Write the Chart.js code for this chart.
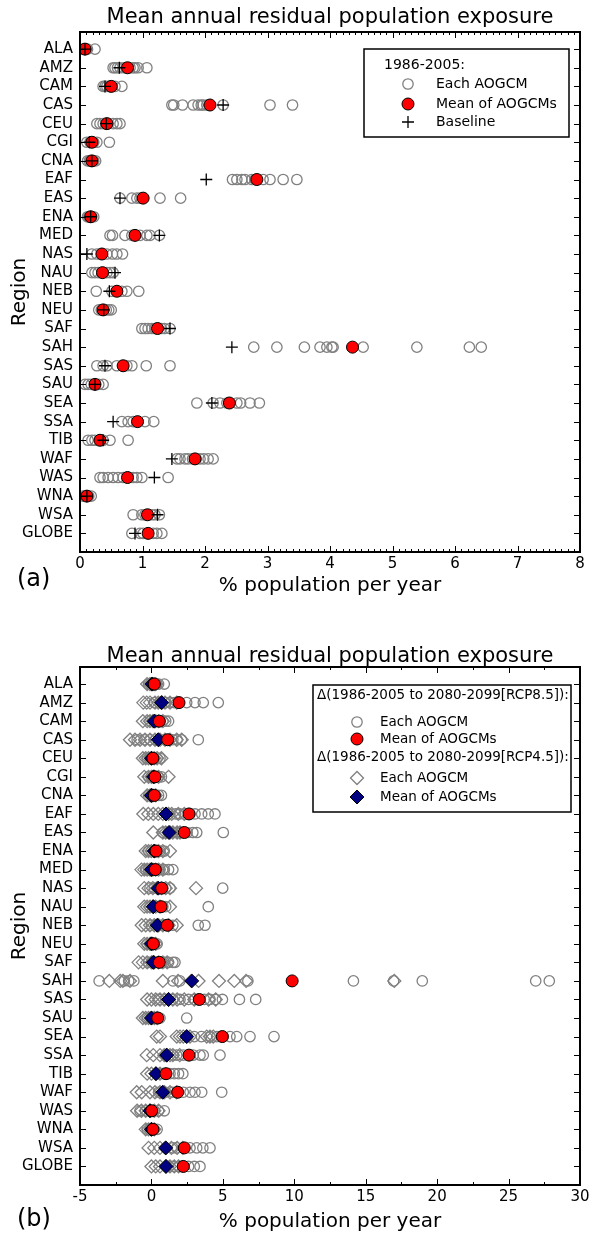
<!DOCTYPE html>
<html><head><meta charset="utf-8">
<script src="https://cdn.jsdelivr.net/npm/chart.js@4.4.0/dist/chart.umd.min.js"></script>
<style>
html,body{margin:0;padding:0;background:#fff;}
#wrap{position:relative;width:597px;height:1236px;background:#fff;}
canvas{position:absolute;left:0;}
</style></head><body>
<div id="wrap">
<canvas id="ca" width="597" height="616" style="top:0px"></canvas>
<canvas id="cb" width="597" height="620" style="top:616px"></canvas>
</div>
<script>
// ---------------- DATA ----------------
const regions = ["ALA","AMZ","CAM","CAS","CEU","CGI","CNA","EAF","EAS","ENA","MED","NAS","NAU","NEB","NEU","SAF","SAH","SAS","SAU","SEA","SSA","TIB","WAF","WAS","WNA","WSA","GLOBE"];
const titleText = "Mean annual residual population exposure";
const xLabel = "% population per year";
const yLabel = "Region";

// Panel (a): 1986-2005
const aXTicks = [0,1,2,3,4,5,6,7,8];
const aEachModel = [
  [0.05,0.07,0.08,0.10,0.12,0.24],
  [0.53,0.56,0.60,0.64,0.70,0.76,0.80,0.85,0.88,0.93,1.07],
  [0.37,0.40,0.43,0.47,0.51,0.56,0.67],
  [1.47,1.50,1.64,1.81,1.89,1.94,1.97,2.03,2.29,3.04,3.40],
  [0.27,0.32,0.37,0.41,0.45,0.53,0.59,0.64],
  [0.11,0.16,0.19,0.22,0.27,0.47],
  [0.12,0.15,0.18,0.20,0.22,0.25],
  [2.44,2.51,2.59,2.64,2.75,2.80,2.93,3.04,3.25,3.47],
  [0.64,0.83,0.91,0.96,1.01,1.28,1.61],
  [0.12,0.14,0.17,0.19,0.22],
  [0.48,0.52,0.72,0.83,0.88,0.96,1.07,1.12,1.27],
  [0.19,0.27,0.35,0.43,0.52,0.59,0.68],
  [0.19,0.24,0.29,0.36,0.43,0.48,0.53],
  [0.26,0.51,0.59,0.67,0.75,0.94],
  [0.30,0.34,0.38,0.42,0.46,0.50],
  [0.99,1.04,1.09,1.15,1.20,1.25,1.30,1.35,1.44],
  [2.78,3.15,3.59,3.84,3.95,4.03,4.05,4.53,5.39,6.23,6.42],
  [0.27,0.37,0.43,0.59,0.69,0.75,0.83,1.06,1.44],
  [0.08,0.13,0.18,0.24,0.30,0.37],
  [1.87,2.13,2.24,2.35,2.39,2.51,2.57,2.72,2.87],
  [0.67,0.77,0.85,0.93,1.04,1.18],
  [0.13,0.19,0.24,0.32,0.37,0.48,0.77],
  [1.55,1.60,1.68,1.73,1.80,1.86,1.92,1.98,2.05,2.13],
  [0.32,0.37,0.45,0.53,0.61,0.69,0.77,0.85,0.91,0.99,1.41],
  [0.05,0.08,0.11,0.14,0.18],
  [0.85,0.99,1.04,1.08,1.15,1.20,1.27],
  [0.83,0.96,1.01,1.09,1.17,1.23,1.31]
];
const aMean = [0.08,0.76,0.50,2.08,0.43,0.19,0.19,2.83,1.01,0.17,0.88,0.35,0.36,0.59,0.37,1.24,4.36,0.69,0.24,2.39,0.92,0.32,1.84,0.76,0.11,1.08,1.09];
const aBaseline = [0.08,0.63,0.40,2.29,0.42,0.15,0.19,2.02,0.64,0.17,1.27,0.11,0.56,0.47,0.38,1.44,2.43,0.40,0.24,2.11,0.53,0.37,1.47,1.19,0.11,1.24,0.88];

// Panel (b): change to 2080-2099
const bXTicks = [-5,0,5,10,15,20,25,30];
const bEachRCP85 = [
  [-0.2,0.0,0.1,0.2,0.3,0.4,0.5,0.9],
  [0.2,0.6,1.0,1.3,1.6,1.9,2.47,3.05,3.63,4.68],
  [-0.1,0.2,0.4,0.6,0.8,1.0,1.2],
  [-1.0,-0.5,-0.1,0.3,0.6,0.9,1.2,1.5,1.8,2.1,3.28],
  [-0.3,-0.1,0.0,0.1,0.2,0.4,0.6],
  [-0.2,0.0,0.2,0.3,0.5,0.7],
  [-0.2,0.0,0.2,0.3,0.5,0.7],
  [1.2,1.7,2.0,2.35,2.7,3.05,3.52,3.98,4.45],
  [0.8,1.2,1.5,1.77,2.1,2.5,2.9,3.17,5.03],
  [-0.2,0.0,0.2,0.4,0.6,0.9],
  [-0.4,-0.2,0.0,0.2,0.4,0.6,0.9,1.2,1.5],
  [-0.1,0.2,0.4,0.6,0.8,1.0,1.3,4.99],
  [-0.1,0.2,0.4,0.6,0.8,1.0,3.98],
  [0.0,0.3,0.6,0.9,1.2,1.5,3.28,3.75],
  [-0.3,-0.1,0.0,0.1,0.2,0.4],
  [-0.2,0.0,0.3,0.5,0.7,0.9,1.2,1.5,1.65],
  [-3.66,-1.9,-1.59,-1.23,1.51,1.99,6.75,14.14,16.95,18.96,26.9,27.85],
  [0.5,1.0,1.5,2.0,2.6,3.0,3.3,3.7,4.1,4.5,4.97,6.16,7.3],
  [-0.3,0.0,0.2,0.4,0.6,2.47],
  [2.5,3.0,3.5,4.1,4.57,5.03,5.5,5.97,6.9,8.58],
  [1.0,1.5,1.77,2.23,2.6,2.93,3.4,3.63,4.8],
  [0.5,0.8,1.0,1.3,1.6,1.9,2.2],
  [0.5,1.0,1.5,1.8,2.23,2.7,3.05,3.52,4.92],
  [-0.8,-0.4,-0.1,0.2,0.5,0.9],
  [-0.3,-0.1,0.0,0.2,0.4],
  [1.0,1.5,1.77,2.23,2.7,3.17,3.6,4.1],
  [1.2,1.53,1.9,2.23,2.6,3.0,3.4]
];
const bMeanRCP85 = [0.2,1.93,0.55,1.14,0.1,0.25,0.2,2.63,2.3,0.32,0.27,0.72,0.67,1.11,0.13,0.55,9.85,3.35,0.44,4.96,2.63,1.02,1.84,0.02,0.1,2.3,2.23];
const bEachRCP45 = [
  [-0.3,-0.1,0.0,0.1,0.2,0.3],
  [-0.57,-0.33,-0.1,0.25,0.48,0.7,0.95,1.3,1.77],
  [-0.6,-0.3,-0.1,0.1,0.3,0.5,0.8],
  [-1.5,-1.15,-0.8,-0.45,-0.1,0.25,0.6,0.95,1.3,1.77,2.12],
  [-0.6,-0.4,-0.2,0.0,0.2,0.4,0.7],
  [-0.5,-0.2,0.0,0.2,0.5,1.2],
  [-0.3,-0.1,0.0,0.1,0.3],
  [-0.57,-0.22,0.13,0.48,0.8,1.2,1.42,1.88,2.3],
  [0.13,0.8,1.0,1.3,1.5,1.8,2.0],
  [-0.4,-0.2,0.0,0.2,0.5,0.8,1.3],
  [-0.7,-0.5,-0.3,-0.1,0.1,0.3,0.5,0.8],
  [-0.5,-0.2,0.1,0.4,0.7,1.0,1.3,3.12],
  [-0.5,-0.3,-0.1,0.1,0.3,0.6,1.3],
  [-0.68,-0.4,-0.1,0.2,0.5,0.8,1.2,1.77],
  [-0.5,-0.3,-0.1,0.1,0.3],
  [-0.9,-0.6,-0.3,0.0,0.2,0.5,0.8,1.1],
  [-2.95,-2.18,-2.0,-1.5,0.8,1.87,3.3,4.73,5.8,6.63,17.0],
  [-0.3,0.0,0.3,0.6,0.9,1.2,1.5,1.8,2.3,3.0,4.0,4.5],
  [-0.6,-0.4,-0.2,0.0,0.2,0.4],
  [0.37,0.6,1.77,2.0,2.23,2.7,3.87,4.1,4.33],
  [-0.33,0.13,0.6,0.9,1.07,1.3,1.5,1.98],
  [-0.3,0.0,0.3,0.6],
  [-1.03,-0.68,-0.1,0.25,0.6,0.9,1.3,1.77],
  [-1.0,-0.7,-0.4,-0.1,0.2,0.5],
  [-0.4,-0.2,0.0,0.2],
  [-0.2,0.2,0.6,1.0,1.4,1.8,2.2],
  [0.0,0.3,0.6,1.0,1.3,1.6,1.9]
];
const bMeanRCP45 = [0.05,0.72,0.2,0.48,0.0,0.15,0.0,1.02,1.23,0.2,0.0,0.48,0.13,0.41,0.0,0.13,2.82,1.2,0.0,2.47,1.07,0.32,0.79,-0.1,0.0,1.0,1.02];

const legendA = ["1986-2005:", "Each AOGCM", "Mean of AOGCMs", "Baseline"];
const legendB = ["\u0394(1986-2005 to 2080-2099[RCP8.5]):", "Each AOGCM", "Mean of AOGCMs",
                 "\u0394(1986-2005 to 2080-2099[RCP4.5]):", "Each AOGCM", "Mean of AOGCMs"];

// ---------------- HELPERS ----------------
const FONT = "'DejaVu Sans', sans-serif";
const GRAY = '#808080';
function ptsMulti(lists){ const out=[]; lists.forEach((l,i)=>l.forEach(v=>out.push({x:v,y:i}))); return out; }
function ptsSingle(arr){ return arr.map((v,i)=>({x:v,y:i})); }

function drawMarker(ctx, style, x, y, r, fill, stroke, lw){
  ctx.save();
  ctx.beginPath();
  if (style==='circle'){ ctx.arc(x,y,r,0,Math.PI*2); }
  else if (style==='rectRot'){ ctx.moveTo(x-r,y); ctx.lineTo(x,y-r); ctx.lineTo(x+r,y); ctx.lineTo(x,y+r); ctx.closePath(); }
  else if (style==='cross'){ ctx.moveTo(x-r,y); ctx.lineTo(x+r,y); ctx.moveTo(x,y-r); ctx.lineTo(x,y+r); }
  if (fill && style!=='cross'){ ctx.fillStyle=fill; ctx.fill(); }
  ctx.strokeStyle=stroke; ctx.lineWidth=lw; ctx.stroke();
  ctx.restore();
}

function decoPlugin(o){
  return {
    id:'deco'+o.tag,
    afterDraw(chart){
      const ctx=chart.ctx, a=chart.chartArea, xs=chart.scales.x, ys=chart.scales.y;
      ctx.save();
      ctx.strokeStyle='#000'; ctx.lineWidth=1;
      ctx.beginPath();
      const n=Math.round((o.xMax-o.xMin)/o.minorStep);
      for(let k=0;k<=n;k++){
        const v=o.xMin+k*o.minorStep;
        const px=Math.round(xs.getPixelForValue(v))+0.5;
        const major=Math.abs(v/o.majorStep-Math.round(v/o.majorStep))<1e-6;
        const L=major?6:3;
        ctx.moveTo(px,a.bottom); ctx.lineTo(px,a.bottom-L);
        ctx.moveTo(px,a.top); ctx.lineTo(px,a.top+L);
      }
      regions.forEach((r,i)=>{
        const py=Math.round(ys.getPixelForValue(i))+0.5;
        ctx.moveTo(a.left,py); ctx.lineTo(a.left+6,py);
        ctx.moveTo(a.right,py); ctx.lineTo(a.right-6,py);
      });
      ctx.stroke();
      ctx.lineWidth=2;
      ctx.strokeRect(a.left,a.top,a.right-a.left,a.bottom-a.top);
      ctx.fillStyle='#000';
      ctx.textAlign='center'; ctx.textBaseline='middle';
      ctx.font='21px '+FONT;
      ctx.fillText(titleText,(a.left+a.right)/2,o.titleY);
      ctx.font='20px '+FONT;
      ctx.fillText(xLabel,(a.left+a.right)/2,o.xLabelY);
      ctx.save(); ctx.translate(20,(a.top+a.bottom)/2); ctx.rotate(-Math.PI/2);
      ctx.fillText(yLabel,0,0); ctx.restore();
      ctx.textAlign='left'; ctx.font='24px '+FONT;
      ctx.fillText(o.panel,17,o.panelY);
      const L=o.legend;
      ctx.lineWidth=1.5; ctx.strokeStyle='#000';
      ctx.strokeRect(L.x0,L.y0,L.x1-L.x0,L.y1-L.y0);
      ctx.font=L.font+'px '+FONT; ctx.textAlign='left'; ctx.textBaseline='middle';
      L.items.forEach(it=>{
        if(it.marker) drawMarker(ctx,it.marker.style,L.mx,it.y,it.marker.r,it.marker.fill,it.marker.stroke,it.marker.lw);
        ctx.fillStyle='#000';
        ctx.fillText(it.text, it.marker?L.tx:L.hx, it.y);
      });
      ctx.restore();
    }
  };
}

function baseOptions(xmin,xmax,xticks,xHeight,padTop){
  return {
    responsive:false, animation:false, devicePixelRatio:1, events:[],
    layout:{padding:{top:padTop,right:17,left:0,bottom:0}},
    plugins:{legend:{display:false},tooltip:{enabled:false},title:{display:false}},
    scales:{
      x:{type:'linear',min:xmin,max:xmax,
         afterBuildTicks(s){ s.ticks=xticks.map(v=>({value:v})); },
         afterFit(s){ s.height=xHeight; },
         grid:{display:false,drawTicks:false}, border:{display:false},
         ticks:{padding:3,color:'#000',font:{family:FONT,size:15},maxRotation:0,autoSkip:false,callback:(v)=>String(v)}},
      y:{type:'linear',reverse:true,min:-0.92,max:27.0,
         afterBuildTicks(s){ s.ticks=regions.map((_,i)=>({value:i})); },
         afterFit(s){ s.width=80; },
         grid:{display:false,drawTicks:false}, border:{display:false},
         ticks:{padding:7,color:'#000',font:{family:FONT,size:15},autoSkip:false,callback:(v)=>regions[Math.round(v)]}}
    }
  };
}

// ---------------- PANEL A ----------------
new Chart(document.getElementById('ca'), {
  type:'scatter',
  data:{datasets:[
    {label:legendA[3], data:ptsSingle(aBaseline), pointStyle:'cross', pointRadius:6, pointBorderColor:'#000', pointBorderWidth:1.3, order:0, clip:0},
    {label:legendA[2], data:ptsSingle(aMean), pointStyle:'circle', pointRadius:6, pointBackgroundColor:'#ff0000', pointBorderColor:'#000', pointBorderWidth:1, order:1, clip:0},
    {label:legendA[1], data:ptsMulti(aEachModel), pointStyle:'circle', pointRadius:5.2, pointBackgroundColor:'rgba(0,0,0,0)', pointBorderColor:GRAY, pointBorderWidth:1.3, order:2, clip:0}
  ]},
  options: baseOptions(0,8,aXTicks,64,32),
  plugins:[decoPlugin({tag:'a',xMin:0,xMax:8,minorStep:0.1,majorStep:1,titleY:18,xLabelY:586,panel:'(a)',panelY:580,
    legend:{x0:364,y0:49,x1:569,y1:137,font:14,hx:384,mx:408,tx:436,items:[
      {text:legendA[0],y:65},
      {text:legendA[1],y:84,marker:{style:'circle',r:5.2,fill:null,stroke:GRAY,lw:1.3}},
      {text:legendA[2],y:104,marker:{style:'circle',r:6,fill:'#ff0000',stroke:'#000',lw:1}},
      {text:legendA[3],y:122,marker:{style:'cross',r:6,fill:null,stroke:'#000',lw:1.3}}
    ]}})]
});

// ---------------- PANEL B ----------------
new Chart(document.getElementById('cb'), {
  type:'scatter',
  data:{datasets:[
    {label:legendB[2], data:ptsSingle(bMeanRCP85), pointStyle:'circle', pointRadius:6, pointBackgroundColor:'#ff0000', pointBorderColor:'#000', pointBorderWidth:1, order:0, clip:0},
    {label:legendB[5], data:ptsSingle(bMeanRCP45), pointStyle:'rectRot', pointRadius:7, pointBackgroundColor:'#000080', pointBorderColor:'#000', pointBorderWidth:1, order:1, clip:0},
    {label:legendB[1], data:ptsMulti(bEachRCP85), pointStyle:'circle', pointRadius:5.2, pointBackgroundColor:'rgba(0,0,0,0)', pointBorderColor:GRAY, pointBorderWidth:1.3, order:2, clip:0},
    {label:legendB[4], data:ptsMulti(bEachRCP45), pointStyle:'rectRot', pointRadius:6.5, pointBackgroundColor:'rgba(0,0,0,0)', pointBorderColor:GRAY, pointBorderWidth:1.3, order:3, clip:0}
  ]},
  options: baseOptions(-5,30,bXTicks,51,51),
  plugins:[decoPlugin({tag:'b',xMin:-5,xMax:30,minorStep:2.5,majorStep:5,titleY:41,xLabelY:606,panel:'(b)',panelY:604,
    legend:{x0:313,y0:69,x1:571,y1:196,font:13.5,hx:317,mx:357,tx:380,items:[
      {text:legendB[0],y:79},
      {text:legendB[1],y:106,marker:{style:'circle',r:5.2,fill:null,stroke:GRAY,lw:1.3}},
      {text:legendB[2],y:123,marker:{style:'circle',r:6,fill:'#ff0000',stroke:'#000',lw:1}},
      {text:legendB[3],y:141},
      {text:legendB[4],y:162,marker:{style:'rectRot',r:6.5,fill:null,stroke:GRAY,lw:1.3}},
      {text:legendB[5],y:181,marker:{style:'rectRot',r:7,fill:'#000080',stroke:'#000',lw:1}}
    ]}})]
});
</script>
</body></html>
